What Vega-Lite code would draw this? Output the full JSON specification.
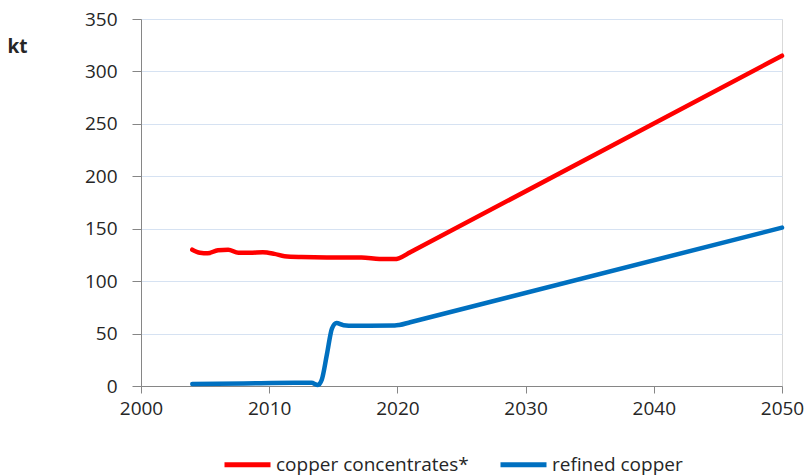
{
  "$schema": "https://vega.github.io/schema/vega-lite/v6.json",
  "width": 641,
  "height": 367,
  "autosize": "none",
  "padding": {"left": 141, "top": 19, "right": 25, "bottom": 90},
  "background": "white",
  "config": {
    "view": {"stroke": "#d9d9d9", "strokeWidth": 1},
    "font": "Open Sans"
  },
  "data": {
    "values": [
      {"year": 2004, "kt": 130, "series": "copper concentrates*"},
      {"year": 2004.6, "kt": 127, "series": "copper concentrates*"},
      {"year": 2005.2, "kt": 126.5, "series": "copper concentrates*"},
      {"year": 2006, "kt": 129.5, "series": "copper concentrates*"},
      {"year": 2006.8, "kt": 130, "series": "copper concentrates*"},
      {"year": 2007.6, "kt": 127, "series": "copper concentrates*"},
      {"year": 2008.5, "kt": 127, "series": "copper concentrates*"},
      {"year": 2009.5, "kt": 127.5, "series": "copper concentrates*"},
      {"year": 2010.4, "kt": 126, "series": "copper concentrates*"},
      {"year": 2011.2, "kt": 123.8, "series": "copper concentrates*"},
      {"year": 2012.5, "kt": 123, "series": "copper concentrates*"},
      {"year": 2014.5, "kt": 122.6, "series": "copper concentrates*"},
      {"year": 2017.2, "kt": 122.6, "series": "copper concentrates*"},
      {"year": 2018.6, "kt": 121.2, "series": "copper concentrates*"},
      {"year": 2019.8, "kt": 121, "series": "copper concentrates*"},
      {"year": 2020.15, "kt": 122, "series": "copper concentrates*"},
      {"year": 2021, "kt": 127.5, "series": "copper concentrates*"},
      {"year": 2050, "kt": 315, "series": "copper concentrates*"},
      {"year": 2004, "kt": 2, "series": "refined copper"},
      {"year": 2008, "kt": 2.5, "series": "refined copper"},
      {"year": 2012, "kt": 3, "series": "refined copper"},
      {"year": 2013.3, "kt": 3, "series": "refined copper"},
      {"year": 2013.8, "kt": 1, "series": "refined copper"},
      {"year": 2014.1, "kt": 6, "series": "refined copper"},
      {"year": 2014.5, "kt": 30, "series": "refined copper"},
      {"year": 2014.9, "kt": 55, "series": "refined copper"},
      {"year": 2015.25, "kt": 60, "series": "refined copper"},
      {"year": 2015.8, "kt": 58, "series": "refined copper"},
      {"year": 2016.6, "kt": 57.5, "series": "refined copper"},
      {"year": 2019.8, "kt": 57.7, "series": "refined copper"},
      {"year": 2020.15, "kt": 58.2, "series": "refined copper"},
      {"year": 2021, "kt": 60.8, "series": "refined copper"},
      {"year": 2050, "kt": 151, "series": "refined copper"}
    ]
  },
  "mark": {"type": "line", "strokeWidth": 4.5, "interpolate": "monotone", "strokeCap": "round"},
  "encoding": {
    "x": {
      "field": "year", "type": "quantitative",
      "scale": {"domain": [2000, 2050], "nice": false, "zero": false},
      "axis": {
        "values": [2000, 2010, 2020, 2030, 2040, 2050],
        "format": "d", "title": null, "grid": false,
        "labelFlush": false, "labelBound": false, "labelOverlap": false,
        "domainColor": "#868686", "tickColor": "#868686", "tickSize": 7,
        "labelFontSize": 19, "labelColor": "#262626", "labelPadding": 6
      }
    },
    "y": {
      "field": "kt", "type": "quantitative",
      "scale": {"domain": [0, 350], "nice": false},
      "axis": {
        "values": [0, 50, 100, 150, 200, 250, 300, 350],
        "labelFlush": false, "labelBound": false, "labelOverlap": false,
        "title": "kt", "titleAngle": 0, "titleFontWeight": "bold", "titleFontSize": 19,
        "titleX": -124, "titleY": 27, "titleAlign": "center", "titleBaseline": "middle", "titleColor": "#262626",
        "grid": true, "gridColor": "#d6e2f2", "gridWidth": 1,
        "domainColor": "#868686", "tickColor": "#868686", "tickSize": 9,
        "labelFontSize": 19, "labelColor": "#262626", "labelPadding": 15
      }
    },
    "color": {
      "field": "series", "type": "nominal",
      "scale": {"domain": ["copper concentrates*", "refined copper"], "range": ["#ff0000", "#0070c0"]},
      "legend": {
        "title": null, "orient": "none", "direction": "horizontal",
        "legendX": 81, "legendY": 420,
        "symbolType": "stroke", "symbolSize": 2116, "symbolStrokeWidth": 5,
        "labelFontSize": 19, "labelLimit": 400, "labelColor": "#262626", "labelOffset": 3, "columnPadding": 21
      }
    }
  }
}
